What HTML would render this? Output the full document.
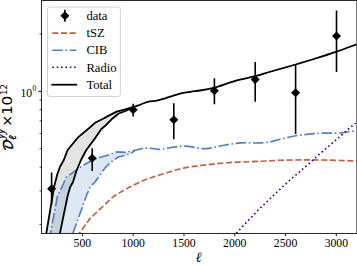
<!DOCTYPE html>
<html><head><meta charset="utf-8"><title>plot</title>
<style>
html,body{margin:0;padding:0;background:#fff}
svg{display:block}
text{font-family:"Liberation Serif","DejaVu Serif",serif;fill:#000}
.tk{font-size:11.7px}
.lg{font-size:12.6px}
.xl{font-size:14px;font-style:italic;font-weight:bold}
.yl{font-family:"DejaVu Sans","Liberation Sans",sans-serif;font-size:12.8px}
.sd{font-family:"DejaVu Math TeX Gyre","DejaVu Serif",serif;font-size:13px}
.it{font-family:"Liberation Serif","DejaVu Serif",serif;font-style:italic}
</style></head><body>
<svg width="357" height="266" viewBox="0 0 357 266">
<rect width="357" height="266" fill="#fff"/>
<clipPath id="c"><rect x="41.4" y="0.5" width="315.5" height="232.9"/></clipPath>
<g clip-path="url(#c)" fill="none" stroke-linejoin="round">
<polygon points="46.3,233.4 52.7,195.0 54.0,187.0 57.4,174.0 60.0,166.7 63.8,160.0 67.6,150.0 77.8,137.6 90.4,127.0 95.0,122.8 102.6,119.0 107.8,116.1 116.7,111.6 124.4,109.7 132.7,107.2 130.8,108.3 125.7,111.0 118.7,113.5 111.6,119.3 105.5,125.5 101.4,129.0 95.5,137.6 86.3,150.0 81.0,160.0 76.4,171.0 73.0,182.0 70.2,187.0 67.6,196.0 59.9,233.4" fill="#000" fill-opacity="0.11"/>
<polygon points="50.5,233.4 57.5,196.0 62.0,187.0 64.6,181.0 66.3,177.2 73.2,172.4 75.1,170.9 83.3,165.2 90.0,161.5 96.0,158.6 100.2,157.2 105.0,156.0 110.0,154.4 116.8,151.9 125.2,152.4 135.4,150.2 132.0,152.7 126.9,154.9 118.5,157.0 115.3,159.0 110.0,162.9 105.2,167.8 100.5,174.2 95.2,181.7 90.0,187.3 86.3,196.0 72.9,233.4" fill="#5080c3" fill-opacity="0.19"/>
<path d="M79.2,233.4 L90.0,218.6 L112.8,197.0 L125.4,189.2 L138.0,182.9 C142.20,181.02 146.40,179.41 150.6,177.9 C153.73,176.78 156.87,175.73 160.0,174.8 C161.67,174.30 163.33,173.88 165.0,173.4 C168.93,172.26 172.87,170.74 176.8,169.7 C182.40,168.21 188.00,167.28 193.6,166.4 C199.20,165.52 204.80,165.02 210.4,164.4 C216.00,163.78 221.60,163.10 227.2,162.7 C232.80,162.30 238.40,162.23 244.0,162.0 C249.60,161.77 255.20,161.56 260.8,161.3 C267.20,161.00 273.60,160.54 280.0,160.3 C290.80,159.90 301.60,159.87 312.4,159.9 C327.10,159.94 341.80,160.57 356.5,160.9" stroke="#bf603e" stroke-width="1.64" stroke-dasharray="6.05 2.62" stroke-dashoffset="4.1"/>
<path d="M50.5,233.4 L57.5,196.0 L62.0,187.0 L64.6,181.0 L66.3,177.2 L73.2,172.4 L75.1,170.9 L83.3,165.2 L90.0,161.5 L96.0,158.6 L100.2,157.2 L105.0,156.0 L110.0,154.4 L116.8,151.9 L125.2,152.4 L135.4,150.2 L143.8,148.2 C146.07,147.96 148.33,148.06 150.6,148.2 C153.40,148.38 156.20,149.43 159.0,149.4 C161.27,149.38 163.53,148.88 165.8,148.5 C167.20,148.26 168.60,147.94 170.0,147.7 C174.50,146.93 179.00,146.35 183.5,146.2 C191.33,145.94 199.17,149.18 207.0,148.6 C212.63,148.18 218.27,146.15 223.9,145.2 C229.50,144.25 235.10,143.32 240.7,142.9 C247.40,142.40 254.10,143.38 260.8,142.9 C263.70,142.69 266.60,142.51 269.5,142.0 C273.00,141.38 276.50,140.06 280.0,139.2 C284.90,137.99 289.80,136.87 294.7,136.0 C302.27,134.66 309.83,133.96 317.4,133.4 C325.80,132.78 334.20,133.56 342.6,132.7 C347.23,132.22 351.87,131.37 356.5,130.7" stroke="#5080c3" stroke-width="1.64" stroke-dasharray="10.5 2.62 1.64 2.62" stroke-dashoffset="7.2"/>
<polyline points="72.9,233.4 86.3,196.0 90.0,187.3 95.2,181.7 100.5,174.2 105.2,167.8 110.0,162.9 115.3,159.0 118.5,157.0 126.9,154.9 132.0,152.7 135.4,150.2" stroke="#5080c3" stroke-width="1.64" stroke-dasharray="10.5 2.62 1.64 2.62"/>
<path d="M236.4,233.4 C237.60,232.00 238.80,230.55 240.0,229.2 C242.00,226.95 244.00,224.98 246.0,222.9 C248.00,220.82 250.00,218.82 252.0,216.7 C253.93,214.65 255.87,212.38 257.8,210.4 C259.93,208.22 262.07,206.33 264.2,204.3 C266.27,202.33 268.33,200.38 270.4,198.4 C272.47,196.42 274.53,194.35 276.6,192.4 C278.73,190.38 280.87,188.45 283.0,186.5 C286.50,183.31 290.00,180.16 293.5,177.1 C295.90,175.00 298.30,172.97 300.7,170.9 C303.40,168.57 306.10,166.29 308.8,163.9 C310.87,162.07 312.93,160.17 315.0,158.3 C317.20,156.31 319.40,154.25 321.6,152.3 C323.80,150.35 326.00,148.48 328.2,146.6 C330.40,144.72 332.60,142.88 334.8,141.0 C337.00,139.12 339.20,137.21 341.4,135.3 C343.53,133.45 345.67,131.58 347.8,129.7 C349.87,127.88 351.93,126.05 354.0,124.2 C355.00,123.30 356.00,122.40 357.0,121.5" stroke="#4b0082" stroke-width="1.64" stroke-dasharray="1.64 2.72"/>
<path d="M46.3,233.4 L52.7,195.0 L54.0,187.0 L57.4,174.0 L60.0,166.7 L63.8,160.0 L67.6,150.0 L77.8,137.6 L90.4,127.0 L95.0,122.8 L102.6,119.0 L107.8,116.1 L116.7,111.6 L124.4,109.7 L132.7,107.2 L140.0,104.8 C142.53,103.89 145.07,102.50 147.6,101.8 C150.67,100.96 153.73,101.23 156.8,100.6 C159.60,100.02 162.40,99.13 165.2,98.3 C168.00,97.47 170.80,96.45 173.6,95.6 C176.40,94.75 179.20,93.83 182.0,93.2 C184.80,92.57 187.60,92.23 190.4,91.8 C193.60,91.31 196.80,91.01 200.0,90.5 C204.80,89.74 209.60,88.91 214.4,87.7 C220.60,86.13 226.80,83.39 233.0,81.6 C240.40,79.46 247.80,78.23 255.2,76.2 C260.47,74.75 265.73,73.04 271.0,71.5 C279.23,69.10 287.47,66.91 295.7,64.5 C301.27,62.87 306.83,61.22 312.4,59.5 C320.47,57.01 328.53,54.52 336.6,51.7 C343.23,49.38 349.87,46.77 356.5,44.3" stroke="#000" stroke-width="1.8"/>
<polyline points="59.9,233.4 67.6,196.0 70.2,187.0 73.0,182.0 76.4,171.0 81.0,160.0 86.3,150.0 95.5,137.6 101.4,129.0 105.5,125.5 111.6,119.3 118.7,113.5 125.7,111.0 130.8,108.3" stroke="#000" stroke-width="1.8"/>
<line x1="51.6" y1="172.6" x2="51.6" y2="205" stroke="#000" stroke-width="1.6"/>
<polygon points="47.1,188.7 51.6,184.2 56.1,188.7 51.6,193.2" fill="#000"/>
<line x1="92.2" y1="148.2" x2="92.2" y2="171" stroke="#000" stroke-width="1.6"/>
<polygon points="87.7,158.2 92.2,153.7 96.7,158.2 92.2,162.7" fill="#000"/>
<line x1="133.2" y1="103.7" x2="133.2" y2="116.6" stroke="#000" stroke-width="1.6"/>
<polygon points="128.7,109.7 133.2,105.2 137.7,109.7 133.2,114.2" fill="#000"/>
<line x1="173.8" y1="103.2" x2="173.8" y2="139.2" stroke="#000" stroke-width="1.6"/>
<polygon points="169.3,119.7 173.8,115.2 178.3,119.7 173.8,124.2" fill="#000"/>
<line x1="214.4" y1="78.3" x2="214.4" y2="104.3" stroke="#000" stroke-width="1.6"/>
<polygon points="209.9,90.7 214.4,86.2 218.9,90.7 214.4,95.2" fill="#000"/>
<line x1="255.2" y1="61.9" x2="255.2" y2="101.8" stroke="#000" stroke-width="1.6"/>
<polygon points="250.7,79.5 255.2,75.0 259.7,79.5 255.2,84.0" fill="#000"/>
<line x1="295.6" y1="65" x2="295.6" y2="134" stroke="#000" stroke-width="1.6"/>
<polygon points="291.1,92.8 295.6,88.3 300.1,92.8 295.6,97.3" fill="#000"/>
<line x1="336.5" y1="10.6" x2="336.5" y2="72.1" stroke="#000" stroke-width="1.6"/>
<polygon points="332.0,36.0 336.5,31.5 341.0,36.0 336.5,40.5" fill="#000"/>
</g>
<rect x="41.4" y="0.5" width="315.5" height="232.9" fill="none" stroke="#000" stroke-width="0.85"/>
<line x1="82.39" y1="233.4" x2="82.39" y2="236.2" stroke="#000" stroke-width="0.9"/>
<text x="82.39" y="247.1" text-anchor="middle" class="tk">500</text>
<line x1="133.18" y1="233.4" x2="133.18" y2="236.2" stroke="#000" stroke-width="0.9"/>
<text x="133.18" y="247.1" text-anchor="middle" class="tk">1000</text>
<line x1="183.97" y1="233.4" x2="183.97" y2="236.2" stroke="#000" stroke-width="0.9"/>
<text x="183.97" y="247.1" text-anchor="middle" class="tk">1500</text>
<line x1="234.76" y1="233.4" x2="234.76" y2="236.2" stroke="#000" stroke-width="0.9"/>
<text x="234.76" y="247.1" text-anchor="middle" class="tk">2000</text>
<line x1="285.55" y1="233.4" x2="285.55" y2="236.2" stroke="#000" stroke-width="0.9"/>
<text x="285.55" y="247.1" text-anchor="middle" class="tk">2500</text>
<line x1="336.34" y1="233.4" x2="336.34" y2="236.2" stroke="#000" stroke-width="0.9"/>
<text x="336.34" y="247.1" text-anchor="middle" class="tk">3000</text>
<line x1="41.4" y1="224.50" x2="39.5" y2="224.50" stroke="#000" stroke-width="0.7"/>
<line x1="41.4" y1="190.96" x2="39.5" y2="190.96" stroke="#000" stroke-width="0.7"/>
<line x1="41.4" y1="167.16" x2="39.5" y2="167.16" stroke="#000" stroke-width="0.7"/>
<line x1="41.4" y1="148.70" x2="39.5" y2="148.70" stroke="#000" stroke-width="0.7"/>
<line x1="41.4" y1="133.61" x2="39.5" y2="133.61" stroke="#000" stroke-width="0.7"/>
<line x1="41.4" y1="120.86" x2="39.5" y2="120.86" stroke="#000" stroke-width="0.7"/>
<line x1="41.4" y1="109.81" x2="39.5" y2="109.81" stroke="#000" stroke-width="0.7"/>
<line x1="41.4" y1="100.07" x2="39.5" y2="100.07" stroke="#000" stroke-width="0.7"/>
<line x1="41.4" y1="34.00" x2="39.5" y2="34.00" stroke="#000" stroke-width="0.7"/>
<line x1="41.4" y1="91.35" x2="38.1" y2="91.35" stroke="#000" stroke-width="0.9"/>
<text x="20.5" y="96.8" class="tk">10<tspan dy="-5.7" dx="0.2" font-size="7.8">0</tspan></text>
<text x="198.8" y="261.5" text-anchor="middle" class="xl">ℓ</text>
<g transform="translate(12.1,149.5) rotate(-90)">
<text x="-1.5" y="0.7" class="sd" stroke="#000" stroke-width="0.55" stroke-linejoin="round">𝒟</text>
<text x="9.6" y="4" class="it" style="font-size:10.5px" stroke="#000" stroke-width="0.3">ℓ</text>
<text x="10.4" y="-7.7" class="it" style="font-size:11.6px" stroke="#000" stroke-width="0.25">yy</text>
<text x="22.7" y="0.1" class="yl" style="font-size:14.2px">×</text>
<text transform="translate(34.4,0.3) scale(1.14,1)" x="0" y="0" class="yl" style="font-size:13.4px">10</text>
<text x="54.6" y="-4.9" class="yl" style="font-size:8.6px">12</text>
</g>
<rect x="47.5" y="7" width="72.9" height="89.5" rx="2.5" fill="#fff" fill-opacity="0.8" stroke="#ccc" stroke-opacity="0.9" stroke-width="1"/>
<line x1="64.9" y1="9.7" x2="64.9" y2="21.8" stroke="#000" stroke-width="1.6"/>
<polygon points="60.4,15.7 64.9,11.2 69.4,15.7 64.9,20.2" fill="#000"/>
<line x1="52.3" y1="33.1" x2="76.3" y2="33.1" stroke="#bf603e" stroke-width="1.64" stroke-dasharray="6.05 2.62"/>
<line x1="52.3" y1="50.2" x2="76.3" y2="50.2" stroke="#5080c3" stroke-width="1.64" stroke-dasharray="10.5 2.62 1.64 2.62"/>
<line x1="52.3" y1="67.3" x2="76.3" y2="67.3" stroke="#4b0082" stroke-width="1.64" stroke-dasharray="1.64 2.72"/>
<line x1="52.3" y1="84.7" x2="76.3" y2="84.7" stroke="#000" stroke-width="1.8" stroke-linecap="square"/>
<text x="86.4" y="19.9" class="lg">data</text>
<text x="86.4" y="37.3" class="lg">tSZ</text>
<text x="86.4" y="54.4" class="lg">CIB</text>
<text x="86.4" y="71.5" class="lg">Radio</text>
<text x="86.4" y="88.9" class="lg">Total</text>
</svg>
</body></html>
